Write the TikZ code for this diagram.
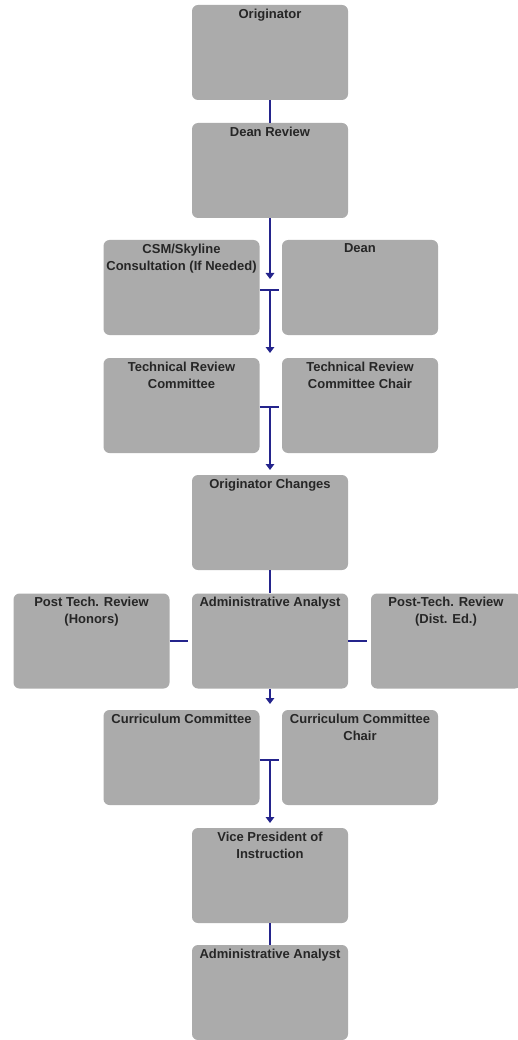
\documentclass[tikz,border=0pt]{standalone}
\usepackage{fontspec}
\setmainfont{Liberation Sans}
\usetikzlibrary{arrows.meta}

\definecolor{boxgray}{HTML}{ABABAB}
\definecolor{flowblue}{HTML}{24248C}

\tikzset{
  stage/.style={fill=boxgray, rounded corners=6pt, minimum width=156pt,
    minimum height=95pt, inner sep=0pt},
  wide/.style={minimum width=150pt},
  stagetext/.style={anchor=north, align=center, inner sep=4pt,
    font=\bfseries\fontsize{13}{17}\selectfont, text=black!85},
  flow/.style={draw=flowblue, line width=2.4pt},
  flowarrow/.style={flow, -{Triangle[length=6pt,width=8.5pt]}}
}

\begin{document}
\begin{tikzpicture}[x=1pt, y=-1pt]
  \useasboundingbox (0,0) rectangle (517,1040);
  %
  \node[stage, label={[stagetext]north:Originator}] (orig) at (270,52.5) {};
  \node[stage, label={[stagetext]north:Dean Review}] (deanrev) at (270,170.5) {};
  %
  \node[stage, label={[stagetext]north:{CSM/Skyline\\Consultation (If Needed)}}] (csm) at (181.5,287.5) {};
  \node[stage, label={[stagetext]north:Dean}] (dean) at (360,287.5) {};
  %
  \node[stage, label={[stagetext]north:{Technical Review\\Committee}}] (trc) at (181.5,405.5) {};
  \node[stage, label={[stagetext]north:{Technical Review\\Committee Chair}}] (trcchair) at (360,405.5) {};
  %
  \node[stage, label={[stagetext]north:Originator Changes}] (origch) at (270,522.5) {};
  %
  \node[stage, label={[stagetext]north:{Post Tech. Review\\(Honors)}}] (honors) at (91.5,641) {};
  \node[stage, label={[stagetext]north:Administrative Analyst}] (admin) at (270,641) {};
  \node[stage, wide, label={[stagetext]north:{Post-Tech. Review\\(Dist. Ed.)}}] (disted) at (446,641) {};
  %
  \node[stage, label={[stagetext]north:Curriculum Committee}] (cc) at (181.5,757.5) {};
  \node[stage, label={[stagetext]north:{Curriculum Committee\\Chair}}] (ccchair) at (360,757.5) {};
  %
  \node[stage, label={[stagetext]north:{Vice President of\\Instruction}}] (vp) at (270,875.5) {};
  \node[stage, label={[stagetext]north:Administrative Analyst}] (admin2) at (270,992.5) {};
  %
  \coordinate (tip1) at (270,279);
  \coordinate (bar1) at (270,290);
  \coordinate (tip2) at (270,353);
  \coordinate (bar2) at (270,407);
  \coordinate (tip3) at (270,470);
  \coordinate (tip4) at (270,704);
  \coordinate (bar3) at (270,760);
  \coordinate (tip5) at (270,823);
  \coordinate (sidel) at (188,641);
  \coordinate (sider) at (367,641);
  %
  \draw[flow] (orig) -- (deanrev);
  \draw[flowarrow] (deanrev) -- (tip1);
  \draw[flow] (csm.east |- bar1) -- ++(19,0);
  \draw[flowarrow] (bar1) -- (tip2);
  %
  \draw[flow] (trc.east |- bar2) -- ++(19,0);
  \draw[flowarrow] (bar2) -- (tip3);
  %
  \draw[flow] (origch) -- (admin);
  \draw[flow] (honors) -- (sidel);
  \draw[flow] (admin) -- (sider);
  \draw[flowarrow] (admin) -- (tip4);
  %
  \draw[flow] (cc.east |- bar3) -- ++(19,0);
  \draw[flowarrow] (bar3) -- (tip5);
  %
  \draw[flow] (vp) -- (admin2);
\end{tikzpicture}
\end{document}
